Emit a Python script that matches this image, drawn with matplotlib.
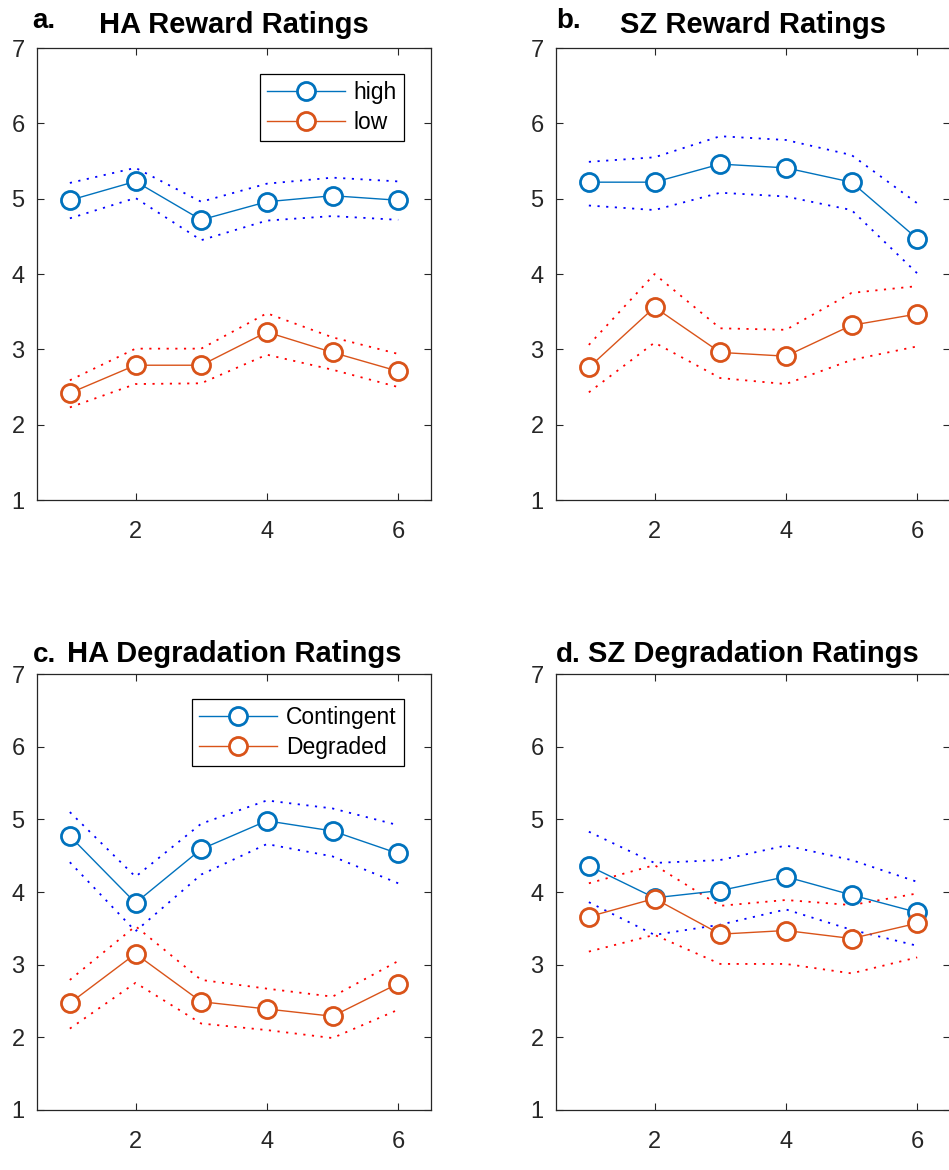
import numpy as np
import matplotlib.pyplot as plt

#helvetica-like font, like the matlab original
plt.rcParams['font.family'] = ['Liberation Sans', 'DejaVu Sans']

#block number on the x axis
blocks = [1, 2, 3, 4, 5, 6]

#a. HA reward ratings (mean, upper and lower bound)
ha_high = [4.98, 5.23, 4.72, 4.96, 5.04, 4.98]
ha_high_up = [5.21, 5.41, 4.96, 5.20, 5.28, 5.23]
ha_high_lo = [4.74, 5.01, 4.45, 4.71, 4.77, 4.72]
ha_low = [2.42, 2.79, 2.79, 3.23, 2.96, 2.71]
ha_low_up = [2.59, 3.01, 3.01, 3.48, 3.16, 2.94]
ha_low_lo = [2.23, 2.54, 2.55, 2.93, 2.73, 2.50]

#b. SZ reward ratings
sz_high = [5.22, 5.22, 5.46, 5.41, 5.22, 4.47]
sz_high_up = [5.49, 5.55, 5.83, 5.78, 5.58, 4.94]
sz_high_lo = [4.91, 4.85, 5.08, 5.03, 4.85, 4.01]
sz_low = [2.76, 3.56, 2.96, 2.91, 3.32, 3.47]
sz_low_up = [3.06, 4.00, 3.28, 3.26, 3.75, 3.84]
sz_low_lo = [2.43, 3.09, 2.62, 2.54, 2.86, 3.04]

#c. HA degradation ratings
ha_cont = [4.77, 3.85, 4.59, 4.98, 4.84, 4.53]
ha_cont_up = [5.10, 4.21, 4.94, 5.26, 5.15, 4.92]
ha_cont_lo = [4.41, 3.46, 4.24, 4.66, 4.49, 4.12]
ha_deg = [2.47, 3.15, 2.49, 2.39, 2.29, 2.74]
ha_deg_up = [2.79, 3.53, 2.79, 2.67, 2.56, 3.05]
ha_deg_lo = [2.12, 2.75, 2.19, 2.10, 1.99, 2.38]

#d. SZ degradation ratings
sz_cont = [4.36, 3.92, 4.02, 4.21, 3.96, 3.72]
sz_cont_up = [4.83, 4.40, 4.44, 4.64, 4.44, 4.14]
sz_cont_lo = [3.86, 3.41, 3.55, 3.76, 3.48, 3.26]
sz_deg = [3.66, 3.91, 3.42, 3.47, 3.36, 3.57]
sz_deg_up = [4.12, 4.37, 3.81, 3.89, 3.82, 3.98]
sz_deg_lo = [3.18, 3.41, 3.01, 3.01, 2.88, 3.10]

#matlab default colours
c_blue = '#0072BD'
c_orange = '#D95319'
c_axis = '#262626'


def draw_panel(ax, letter, title, m1, u1, l1, m2, u2, l2, labels, title_y, letter_y, letter_x):
    #mean lines with open circles
    h1, = ax.plot(blocks, m1, '-o', color=c_blue, lw=1.0, ms=13, mew=2.0,
                  mfc='white', zorder=3)
    h2, = ax.plot(blocks, m2, '-o', color=c_orange, lw=1.0, ms=13, mew=2.0,
                  mfc='white', zorder=3)
    #confidence bounds as dotted lines
    dots = (0, (1.2, 3.6))
    ax.plot(blocks, u1, color='blue', ls=dots, lw=1.3, zorder=2)
    ax.plot(blocks, l1, color='blue', ls=dots, lw=1.3, zorder=2)
    ax.plot(blocks, u2, color='red', ls=dots, lw=1.3, zorder=2)
    ax.plot(blocks, l2, color='red', ls=dots, lw=1.3, zorder=2)

    #axis limits and ticks
    ax.set_xlim(0.5, 6.5)
    ax.set_ylim(1, 7)
    ax.set_xticks([2, 4, 6])
    ax.set_yticks([1, 2, 3, 4, 5, 6, 7])
    ax.tick_params(direction='in', top=True, right=True, length=5, width=0.8,
                   colors=c_axis, labelsize=17)
    ax.tick_params(axis='x', pad=15)
    ax.tick_params(axis='y', pad=9)
    for s in ax.spines.values():
        s.set_color(c_axis)
        s.set_linewidth(0.9)

    #title and panel letter
    ax.text(0.5, title_y, title, transform=ax.transAxes, ha='center',
            va='baseline', fontsize=21, fontweight='bold')
    ax.text(letter_x, letter_y, letter, transform=ax.transAxes, ha='left',
            va='baseline', fontsize=20, fontweight='bold')

    if labels is not None:
        leg = ax.legend([h1, h2], labels, loc='upper right',
                        bbox_to_anchor=(0.931, 0.942), fontsize=16.5,
                        handlelength=3.4, handletextpad=0.4, borderpad=0.3,
                        labelspacing=0.3, fancybox=False, framealpha=1,
                        edgecolor='black', borderaxespad=0)
        leg.get_frame().set_linewidth(0.9)


#create figure, 949x1170 pixels
fig = plt.figure(figsize=(9.49, 11.7), dpi=100)

ax_a = fig.add_axes([0.0390, 0.5726, 0.4152, 0.3863])
ax_b = fig.add_axes([0.5859, 0.5726, 0.4152, 0.3863])
ax_c = fig.add_axes([0.0390, 0.0513, 0.4152, 0.3726])
ax_d = fig.add_axes([0.5859, 0.0513, 0.4152, 0.3726])

draw_panel(ax_a, 'a.', 'HA Reward Ratings', ha_high, ha_high_up, ha_high_lo,
           ha_low, ha_low_up, ha_low_lo, ['high', 'low'], 1.033, 1.044, -0.013)
draw_panel(ax_b, 'b.', 'SZ Reward Ratings', sz_high, sz_high_up, sz_high_lo,
           sz_low, sz_low_up, sz_low_lo, None, 1.033, 1.044, 0.0)
draw_panel(ax_c, 'c.', 'HA Degradation Ratings', ha_cont, ha_cont_up, ha_cont_lo,
           ha_deg, ha_deg_up, ha_deg_lo, ['Contingent', 'Degraded'], 1.0275, 1.0275, -0.01)
draw_panel(ax_d, 'd.', 'SZ Degradation Ratings', sz_cont, sz_cont_up, sz_cont_lo,
           sz_deg, sz_deg_up, sz_deg_lo, None, 1.0275, 1.0275, 0.0)

#save figure to a file
fig.savefig('out.png', dpi=100)
